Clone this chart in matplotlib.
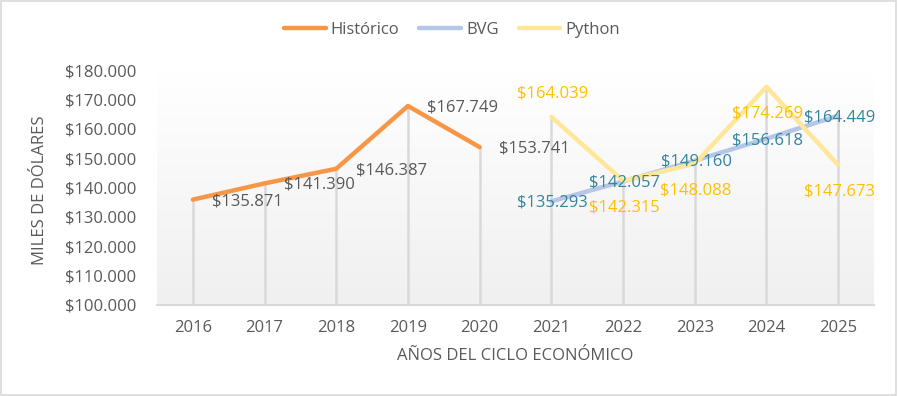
import matplotlib
matplotlib.use("Agg")
import matplotlib.pyplot as plt
import numpy as np
from matplotlib.patches import Rectangle

years = ["2016", "2017", "2018", "2019", "2020", "2021", "2022", "2023", "2024", "2025"]
hist_years = ["2016", "2017", "2018", "2019", "2020"]
hist_vals = [135871, 141390, 146387, 167749, 153741]
fc_years = ["2021", "2022", "2023", "2024", "2025"]
bvg_vals = [135293, 142057, 149160, 156618, 164449]
py_vals = [164039, 142315, 148088, 174269, 147673]
py_label_pos = ["above", "below", "below", "below", "below"]
yticks = [100000, 110000, 120000, 130000, 140000, 150000, 160000, 170000, 180000]

def fmt(v):
    return "$" + f"{v:,}".replace(",", ".")

plt.rcParams['font.family'] = ['Open Sans', 'DejaVu Sans']
TXT = "#595959"
FS = 12

fig = plt.figure(figsize=(8.98, 3.96), dpi=100)
fig.patch.set_facecolor("white")
fig.add_artist(Rectangle((0.001, 0.002), 0.997, 0.995, transform=fig.transFigure,
                         fill=False, edgecolor="#D9D9D9", linewidth=1.2))

ax = fig.add_axes([157/898, 1-305/396, (874-157)/898, (305-70)/396])
ax.set_facecolor("none")
xpos = {y: i for i, y in enumerate(years)}
hx = [xpos[y] for y in hist_years]
fx = [xpos[y] for y in fc_years]

ax.set_xlim(-0.5, len(years) - 0.5)
ax.set_ylim(yticks[0], yticks[-1])

# gradient background
grad = np.linspace(0, 1, 256).reshape(-1, 1)
top = np.array([1.0, 1.0, 1.0])
bot = np.array([0xF0, 0xF0, 0xF0]) / 255
img = top + (bot - top) * grad[:, :, None]
ax.imshow(img, extent=[0, 1, 0, 1], transform=ax.transAxes, aspect="auto", zorder=0)

# drop lines
allx = hx + fx
allmax = hist_vals + [max(a, b) for a, b in zip(bvg_vals, py_vals)]
ax.vlines(allx, yticks[0], allmax, colors="#D9D9D9", linewidth=1.8, zorder=1)

ax.plot(hx, hist_vals, color="#F79646", linewidth=3.2, solid_capstyle="round", label="Histórico", zorder=4)
ax.plot(fx, bvg_vals, color="#B4C7E7", linewidth=3.2, solid_capstyle="round", label="BVG", zorder=3)
ax.plot(fx, py_vals, color="#FFE699", linewidth=3.2, solid_capstyle="round", label="Python", zorder=3)

for x, v in zip(hx, hist_vals):
    ax.annotate(fmt(v), (x, v), xytext=(14, -1), textcoords="offset points",
                ha="left", va="center", color=TXT, fontsize=FS, zorder=6)
for x, v in zip(fx, bvg_vals):
    ax.annotate(fmt(v), (x, v), xytext=(1, -1), textcoords="offset points",
                ha="center", va="center", color="#31859C", fontsize=FS, zorder=6)
for x, v, p in zip(fx, py_vals, py_label_pos):
    dy = 17 if p == "above" else -19
    ax.annotate(fmt(v), (x, v), xytext=(1, dy), textcoords="offset points",
                ha="center", va="center", color="#FFC000", fontsize=FS, zorder=6)

ax.set_xticks(range(len(years)))
ax.set_xticklabels(years)
ax.set_yticks(yticks)
ax.set_yticklabels([fmt(v) for v in yticks])
ax.tick_params(axis="both", length=0, labelsize=FS, colors=TXT)
ax.tick_params(axis="x", pad=11)
ax.tick_params(axis="y", pad=15)
for s in ["top", "right", "left"]:
    ax.spines[s].set_visible(False)
ax.spines["bottom"].set_color("#D9D9D9")
ax.spines["bottom"].set_linewidth(1.5)

ax.set_xlabel("AÑOS DEL CICLO ECONÓMICO", fontsize=FS, color=TXT)
ax.set_ylabel("MILES DE DÓLARES", fontsize=FS, color=TXT)
ax.xaxis.set_label_coords((515-157)/(874-157), -(356-305)/(305-70))
ax.yaxis.set_label_coords((40-157)/(874-157), (305-190)/(305-70))
ax.xaxis.label.set_va("center")
ax.yaxis.label.set_va("center")

leg = fig.legend(loc="center", bbox_to_anchor=(452/898, 1-30/396), ncol=3, frameon=False,
                 fontsize=FS, handlelength=2.5, columnspacing=1.2, handletextpad=0.3)
for t in leg.get_texts():
    t.set_color(TXT)

fig.savefig("out.png", dpi=100)
